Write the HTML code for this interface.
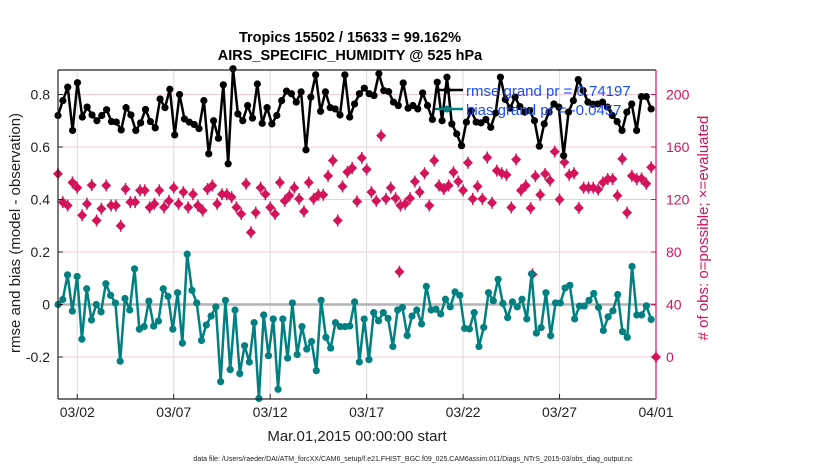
<!DOCTYPE html>
<html><head><meta charset="utf-8"><style>
body{margin:0;background:#fff;}
svg{display:block;font-family:"Liberation Sans",sans-serif;}
</style></head><body>
<svg id="chart" width="830" height="470" viewBox="0 0 830 470">
<g id="grid"></g>
<g id="marks"></g>
<g id="axes"></g>
<text x="350" y="42" text-anchor="middle" font-size="14.5" font-weight="bold">Tropics 15502 / 15633 = 99.162%</text>
<text x="350" y="60" text-anchor="middle" font-size="14.5" font-weight="bold">AIRS_SPECIFIC_HUMIDITY @ 525 hPa</text>
<text transform="translate(20,233) rotate(-90)" text-anchor="middle" font-size="15" fill="#222">rmse and bias (model - observation)</text>
<text transform="translate(708,228) rotate(-90)" text-anchor="middle" font-size="15" fill="#d4145a"># of obs: o=possible; ×=evaluated</text>
<text x="357" y="441" text-anchor="middle" font-size="15" fill="#222">Mar.01,2015 00:00:00 start</text>
<text x="413" y="461" text-anchor="middle" font-size="7" fill="#222">data file: /Users/raeder/DAI/ATM_forcXX/CAM6_setup/f.e21.FHIST_BGC.f09_025.CAM6assim.011/Diags_NTrS_2015-03/obs_diag_output.nc</text>
<g>
<line x1="435" y1="90" x2="463" y2="90" stroke="#000" stroke-width="2.5"/>
<circle cx="447" cy="90" r="3.5" fill="#000"/>
<text x="466" y="96" font-size="15" fill="#1a4cff">rmse grand pr = 0.74197</text>
<line x1="435" y1="109" x2="463" y2="109" stroke="#008080" stroke-width="2.5"/>
<circle cx="447" cy="109" r="3.5" fill="#008080"/>
<text x="466" y="115" font-size="15" fill="#1a4cff">bias grand pr = -0.0457</text>
</g>
</svg>
<script>
const rmse=[0.72,0.777,0.828,0.663,0.845,0.714,0.752,0.722,0.70,0.72,0.742,0.697,0.695,0.665,0.75,0.722,0.663,0.692,0.743,0.697,0.673,0.783,0.75,0.82,0.646,0.80,0.707,0.695,0.686,0.67,0.777,0.574,0.70,0.633,0.837,0.536,0.898,0.726,0.70,0.758,0.71,0.84,0.69,0.75,0.688,0.72,0.777,0.813,0.803,0.771,0.81,0.589,0.79,0.875,0.736,0.81,0.75,0.745,0.722,0.875,0.714,0.764,0.803,0.824,0.803,0.796,0.879,0.815,0.811,0.771,0.758,0.844,0.748,0.758,0.745,0.806,0.758,0.705,0.847,0.70,0.866,0.688,0.65,0.605,0.695,0.739,0.695,0.692,0.705,0.675,0.729,0.866,0.781,0.748,0.79,0.754,0.733,0.739,0.70,0.603,0.688,0.733,0.764,0.752,0.567,0.733,0.777,0.857,0.815,0.771,0.763,0.764,0.771,0.752,0.72,0.697,0.663,0.733,0.764,0.663,0.792,0.792,0.745];
const bias=[0,0.019,0.113,-0.025,0.107,-0.132,0.06,-0.059,0,-0.028,0.079,0.035,0.006,-0.216,0.023,-0.021,0.136,-0.094,-0.084,0.013,-0.082,-0.063,0.06,0.031,-0.094,0.045,-0.147,0.192,0.054,0.006,-0.137,-0.078,-0.044,-0.009,-0.294,0.016,-0.248,-0.021,-0.263,-0.157,-0.219,-0.069,-0.358,-0.04,-0.195,-0.055,-0.323,-0.055,-0.204,0.006,-0.191,-0.084,-0.17,-0.141,-0.252,0.016,-0.125,-0.166,-0.069,-0.084,-0.084,-0.082,0.01,-0.219,-0.055,-0.21,-0.031,-0.062,-0.031,-0.053,-0.16,-0.021,-0.011,-0.118,-0.044,-0.021,-0.074,0.069,-0.021,-0.018,-0.036,0.02,-0.009,0.048,0.035,-0.091,-0.093,-0.031,-0.16,-0.087,0.045,0.014,0.096,0.004,-0.05,0.01,-0.009,0.02,-0.055,0.117,-0.109,-0.088,0.045,-0.119,0.006,0.006,0.063,0.073,-0.055,-0.006,-0.006,0.016,0.042,-0.011,-0.099,-0.047,-0.024,0.038,-0.103,-0.125,0.145,-0.04,-0.04,-0.005,-0.057];
const obsCount=[139.5,118,115.4,133,129,108,116.7,131,104,113,130.7,115.4,115.4,100,128,118,118,127,127,114,116.7,127,114,119,129,116.7,125.6,114,124,115.4,111.6,128,130.7,116.7,124,124,121.8,114,109,132,95,110,129,124,114,109,133,119,123,129,120.5,111,133,120.5,123.6,123.6,138,149.7,104,130,141,144,118.5,151.7,143,125.6,119,168.7,120.5,129,121,115.4,116.7,121,133.7,125.6,140,115.4,149.7,130.7,128,130.7,140.8,133.7,127,148,120.5,130,120.5,152,117.5,142,140,138.8,114,150.5,127,130.7,113.4,137.8,123.6,139.5,134.5,156.5,120,148.4,138.8,140,113.6,129,129,129,127.6,133,135.6,135.6,123,151,110,138,135.6,136,132,144.6];
const outlierDays=[17.7,24.6,31];
const outlierCounts=[65,63,0];
const leftTicks=[-0.2,0,0.2,0.4,0.6,0.8];
const rightTicks=[0,40,80,120,160,200];
const dateTicks=[1,6,11,16,21,26,31];
const dateLabels=["03/02","03/07","03/12","03/17","03/22","03/27","04/01"];

const X0=58,X1=656,Y0=70,Y1=399;
const sx=d=>X0+(d/31)*(X1-X0);
const sy=v=>304.5-v*262.5;
const sr=c=>357-c*52.5/40;
const NS="http://www.w3.org/2000/svg";
function mk(tag,attrs,parent){const e=document.createElementNS(NS,tag);for(const k in attrs)e.setAttribute(k,attrs[k]);parent.appendChild(e);return e;}
const grid=document.getElementById('grid'),marks=document.getElementById('marks'),axes=document.getElementById('axes');
leftTicks.forEach(v=>{const l=mk('line',{x1:X0,x2:X1,y1:sy(v),y2:sy(v),stroke:'#f3c9da','stroke-width':1},grid);


const t=mk('text',{x:X0-8,y:sy(v)+5,'text-anchor':'end','font-size':14,fill:'#222'},axes);t.textContent=(v===0?'0':v.toFixed(1));


mk('line',{x1:X0,x2:X0+5,y1:sy(v),y2:sy(v),stroke:'#222'},axes);});
dateTicks.forEach((d,i)=>{const l=mk('line',{x1:sx(d),x2:sx(d),y1:Y0,y2:Y1,stroke:'#dcdcdc','stroke-width':1},grid);


mk('line',{x1:sx(d),x2:sx(d),y1:Y1,y2:Y1-5,stroke:'#222'},axes);
const t=mk('text',{x:sx(d),y:417,'text-anchor':'middle','font-size':14,fill:'#222'},axes);t.textContent=dateLabels[i];

});
const zl=mk('line',{x1:X0,x2:X1,y1:sy(0),y2:sy(0),stroke:'#b4b4b4','stroke-width':2.5},grid);


// obs
const dt=(i,n)=>i*30.75/(n-1);
function star(cx,cy,name){const g=mk('g',{},marks);


mk('path',{d:`M${cx} ${cy-5}L${cx+5} ${cy}L${cx} ${cy+5}L${cx-5} ${cy}Z`,fill:'#d4145a'},g);
mk('line',{x1:cx,x2:cx,y1:cy-6,y2:cy+6,stroke:'#d4145a','stroke-width':1.5},g);}
obsCount.forEach((c,i)=>star(sx(dt(i,obsCount.length)),sr(c),'obs-count-point'));
outlierDays.forEach((d,i)=>star(sx(d),sr(outlierCounts[i]),'obs-outlier-point'));
function series(vals,color,name){const pts=vals.map((v,i)=>[sx(dt(i,vals.length)),sy(v)]);
const p=mk('polyline',{points:pts.map(p=>p.join(',')).join(' '),fill:'none',stroke:color,'stroke-width':2.5,'stroke-linejoin':'round'},marks);


pts.forEach(q=>{const c=mk('circle',{cx:q[0],cy:q[1],r:3.6,fill:color},marks);

});}
series(bias,'#008080','bias');
series(rmse,'#000','rmse');
// axes frame
mk('line',{x1:X0,x2:X0,y1:Y0,y2:Y1,stroke:'#222','stroke-width':1.2},axes);
mk('line',{x1:X0,x2:X1,y1:Y1,y2:Y1,stroke:'#222','stroke-width':1.2},axes);
mk('line',{x1:X0,x2:X1,y1:Y0,y2:Y0,stroke:'#222','stroke-width':1.2},axes);
mk('line',{x1:X1,x2:X1,y1:Y0,y2:Y1,stroke:'#d4145a','stroke-width':1.2},axes);
rightTicks.forEach(c=>{mk('line',{x1:X1,x2:X1-5,y1:sr(c),y2:sr(c),stroke:'#d4145a'},axes);
const t=mk('text',{x:X1+10,y:sr(c)+5,'font-size':14,fill:'#d4145a'},axes);t.textContent=c;

});
</script>
</body></html>
